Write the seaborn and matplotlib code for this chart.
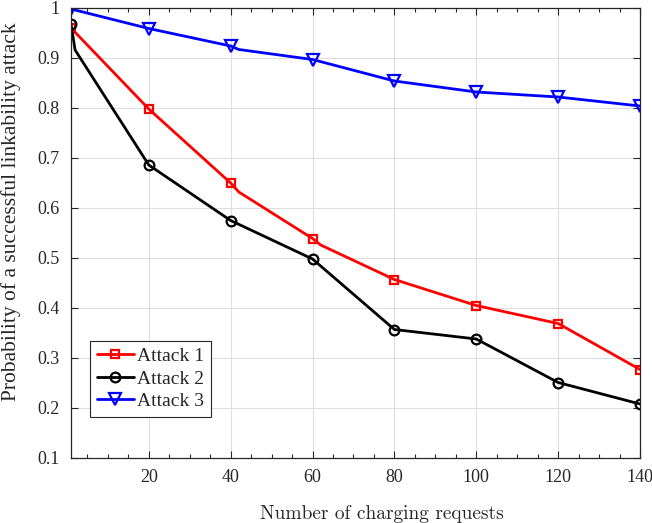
import numpy as np
import pandas as pd
import matplotlib
matplotlib.use("Agg")
import matplotlib.pyplot as plt
import seaborn as sns
from matplotlib.ticker import MultipleLocator

# ---- data ----
x_attack1 = [1, 20, 40, 42, 60, 62, 80, 100, 120, 140]
y_attack1 = [0.960, 0.798, 0.650, 0.632, 0.539, 0.526, 0.457, 0.405, 0.369, 0.277]
mk_attack1 = [0, 1, 2, 4, 6, 7, 8, 9]

x_attack2 = [1, 2, 20, 40, 60, 80, 100, 120, 140]
y_attack2 = [0.968, 0.916, 0.686, 0.575, 0.498, 0.357, 0.338, 0.251, 0.208]
mk_attack2 = [0, 2, 3, 4, 5, 6, 7, 8]

x_attack3 = [1, 20, 40, 42, 60, 80, 100, 120, 140]
y_attack3 = [0.998, 0.959, 0.924, 0.917, 0.897, 0.854, 0.832, 0.822, 0.804]
mk_attack3 = [0, 1, 2, 4, 5, 6, 7, 8]

series_names = ["Attack 1", "Attack 2", "Attack 3"]
x_ticks = [20, 40, 60, 80, 100, 120, 140]
y_ticks = [0.1, 0.2, 0.3, 0.4, 0.5, 0.6, 0.7, 0.8, 0.9, 1.0]
y_ticklabels = ["0.1", "0.2", "0.3", "0.4", "0.5", "0.6", "0.7", "0.8", "0.9", "1"]

sns.set_theme(style="white")
plt.rcParams['font.family'] = ['Liberation Serif', 'DejaVu Serif']

fig = plt.figure(figsize=(6.52, 5.23), dpi=100)
ax = fig.add_axes([71/652, 1-458/523, (640-71)/652, (458-8)/523])

styles = [
    dict(color="#ff0000", marker="s", markersize=5.5, xs=x_attack1, ys=y_attack1, mk=mk_attack1),
    dict(color="#000000", marker="o", markersize=7, xs=x_attack2, ys=y_attack2, mk=mk_attack2),
    dict(color="#0000ff", marker="v", markersize=8, xs=x_attack3, ys=y_attack3, mk=mk_attack3),
]

for name, st in zip(series_names, styles):
    df = pd.DataFrame({"x": st["xs"], "y": st["ys"]})
    sns.lineplot(data=df, x="x", y="y", ax=ax, color=st["color"], linewidth=2.0,
                 marker=st["marker"], markersize=st["markersize"], markevery=st["mk"],
                 markerfacecolor="none", markeredgecolor=st["color"], markeredgewidth=1.6,
                 label=name, estimator=None, sort=False)

ax.set_xlim(1, 140)
ax.set_ylim(0.1, 1.0)
ax.set_xticks(x_ticks)
ax.xaxis.set_minor_locator(MultipleLocator(5))
ax.set_yticks(y_ticks)
ax.set_yticklabels(y_ticklabels)

ax.grid(True, which="major", color="#dedede", linewidth=0.8)
ax.set_axisbelow(True)
for sp in ax.spines.values():
    sp.set_visible(True)
    sp.set_color("#262626")
    sp.set_linewidth(0.9)

ax.tick_params(which="both", direction="in", top=True, right=True, bottom=True, left=True,
               colors="#262626", labelcolor="#262626", labelsize=13)
ax.tick_params(which="major", length=5, width=0.8, pad=8)
ax.tick_params(which="minor", length=3, width=0.8)
ax.tick_params(axis="y", which="minor", left=False, right=False)

ax.set_xlabel("Number of charging requests", family="cmr10", fontsize=14, color="#262626")
ax.xaxis.set_label_coords(0.547, -0.105)
ax.set_ylabel("Probability of a successful linkability attack", fontsize=15.5, color="#262626")
ax.yaxis.set_label_coords(-0.088, 0.547)

leg = ax.legend(loc="lower left", bbox_to_anchor=(0.033, 0.091), borderaxespad=0,
                fontsize=14, frameon=True, fancybox=False, framealpha=1,
                edgecolor="#262626", handlelength=1.9, handletextpad=0.2,
                borderpad=0.35, labelspacing=0.25)
leg.get_frame().set_linewidth(0.8)

fig.savefig("out.png", dpi=100)
